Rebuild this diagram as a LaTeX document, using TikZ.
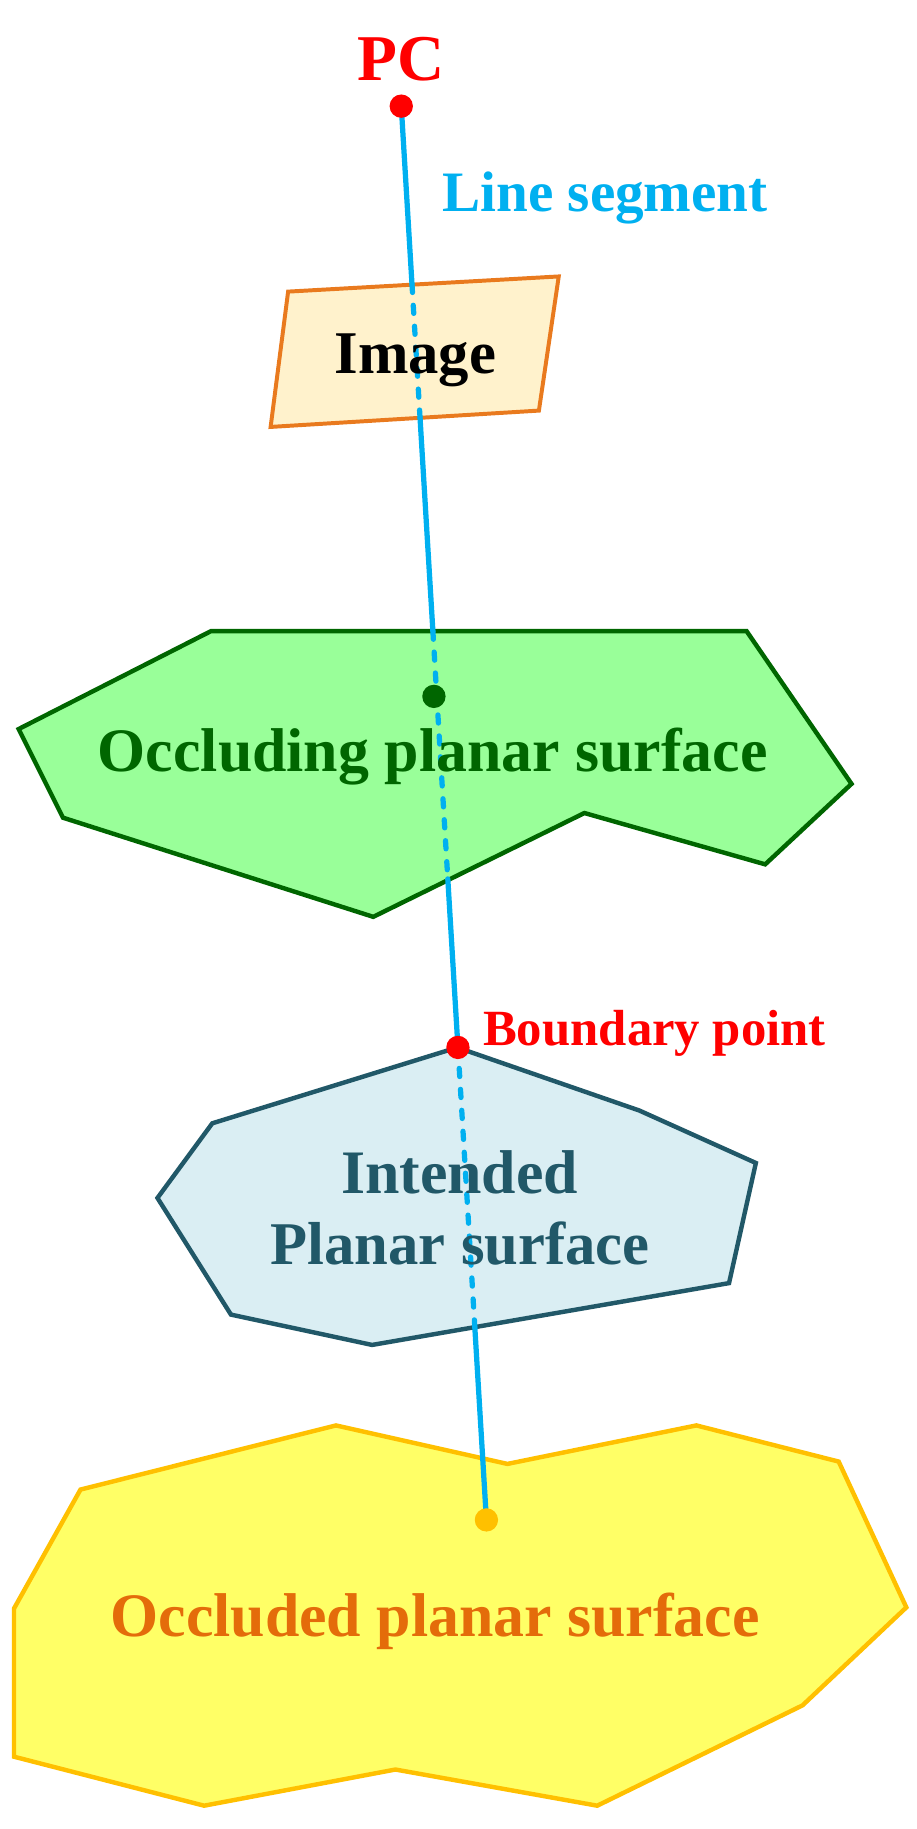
\documentclass[tikz,border=0pt]{standalone}
\usepackage{fontspec}
\setmainfont{Liberation Serif}
\usetikzlibrary{calc}
\definecolor{pcred}{HTML}{FF0000}
\definecolor{lineblue}{HTML}{00B0F0}
\definecolor{imgfill}{HTML}{FFF2CC}
\definecolor{imgdraw}{HTML}{E97A1E}
\definecolor{grfill}{HTML}{99FF99}
\definecolor{grdraw}{HTML}{006600}
\definecolor{blfill}{HTML}{DAEEF3}
\definecolor{bldraw}{HTML}{215868}
\definecolor{yefill}{HTML}{FFFF66}
\definecolor{yedraw}{HTML}{FFC000}
\definecolor{yetext}{HTML}{E46C0A}
\tikzset{
  lbl/.style={inner sep=0pt, anchor=base, font=\fontsize{53}{60}\selectfont\bfseries},
  surf/.style={line width=3.8pt, line join=miter},
  seg/.style={draw=lineblue, line width=4.5pt, line cap=round},
  dsh/.style={seg, dash pattern=on 7pt off 11pt},
  dot/.style={circle, inner sep=0pt, minimum size=20pt}
}
\begin{document}
\begin{tikzpicture}[x=1pt,y=-1pt]
\useasboundingbox (0,0) rectangle (786,1568);
% surfaces
\draw[surf, draw=yedraw, fill=yefill] (288,1222) -- (435,1255) -- (597,1222) -- (719,1253) -- (777,1378) -- (688,1462) -- (512,1548) -- (339,1517) -- (175,1548) -- (12,1506) -- (12,1379) -- (69,1277) -- cycle;
\draw[surf, draw=bldraw, fill=blfill] (392,898) -- (548,952) -- (648,997) -- (625,1100) -- (319,1153) -- (198,1127) -- (135,1027) -- (182,963) -- cycle;
\draw[surf, draw=grdraw, fill=grfill] (181,541) -- (640,541) -- (730,672) -- (656,741) -- (501,697) -- (320,786) -- (54,701) -- (16,625) -- cycle;
\draw[line width=3.4pt, draw=imgdraw, fill=imgfill] (247,250) -- (479,237) -- (462,352) -- (232,366) -- cycle;
% points
\coordinate (pc) at (344,91);
\coordinate (yd) at (417,1303);
\coordinate (c1) at ($(pc)!0.126!(yd)$);
\coordinate (c2) at ($(pc)!0.2203!(yd)$);
\coordinate (c3) at ($(pc)!0.3713!(yd)$);
\coordinate (c4) at ($(pc)!0.5466!(yd)$);
\coordinate (c5) at ($(pc)!0.6658!(yd)$);
\coordinate (c6) at ($(pc)!0.8637!(yd)$);
% line segment
\draw[seg] (pc) -- (c1);
\draw[dsh] (c1) -- (c2);
\draw[seg] (c2) -- (c3);
\draw[dsh] (c3) -- (c4);
\draw[seg] (c4) -- (c5);
\draw[dsh] (c5) -- (c6);
\draw[seg] (c6) -- (yd);
% dots
\node[dot, fill=pcred] (pcdot) at (pc) {};
\node[dot, fill=grdraw] (gdot) at (372,597) {};
\node[dot, fill=pcred] (bdot) at (c5) {};
\node[dot, fill=yedraw] (ydot) at (yd) {};
% labels
\node[lbl, text=pcred, font=\fontsize{56}{60}\selectfont\bfseries] (pclbl) at (344,68.6) {PC};
\node[lbl, text=lineblue, anchor=base west, font=\fontsize{49}{50}\selectfont\bfseries] (linelbl) at (379,181.5) {Line segment};
\node[lbl, text=black, font=\fontsize{52}{50}\selectfont\bfseries] (imglbl) at (356,320) {Image};
\node[lbl, text=grdraw] (occlbl) at (371,661) {Occluding planar surface};
\node[lbl, text=bldraw, font=\fontsize{53}{60}\selectfont\bfseries] (intlbl1) at (394,1023) {Intended};
\node[lbl, text=bldraw, font=\fontsize{52}{60}\selectfont\bfseries] (intlbl2) at (394.5,1084) {Planar surface};
\node[lbl, text=pcred, anchor=base west, font=\fontsize{43.5}{44}\selectfont\bfseries] (bplbl) at (414,896) {Boundary point};
\node[lbl, text=yetext] (ocdlbl) at (373,1403) {Occluded planar surface};
\end{tikzpicture}
\end{document}
